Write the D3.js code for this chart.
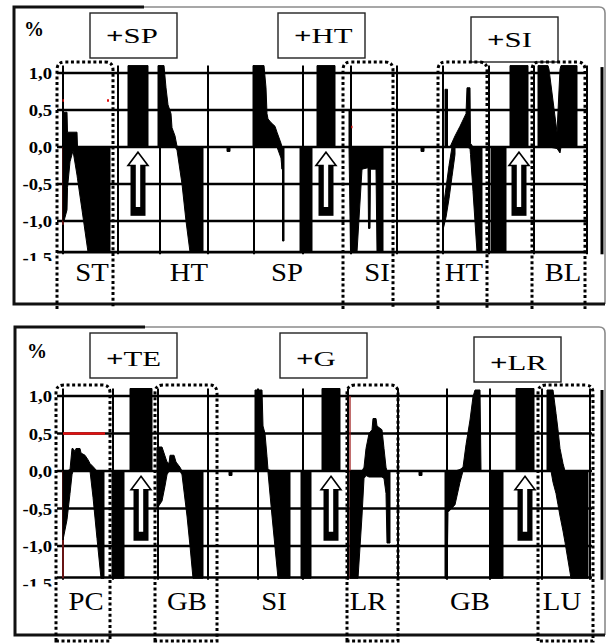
<!DOCTYPE html>
<html><head><meta charset="utf-8">
<script src="https://cdn.jsdelivr.net/npm/d3@7"></script>
<style>body{margin:0;background:#fff}svg{display:block}</style>
</head><body><svg id="c" width="611" height="644"></svg>
<script>
// ---------- data ----------
const tickValues = [1.0, 0.5, 0.0, -0.5, -1.0, -1.5];
const tickLabels = ["1,0", "0,5", "0,0", "-0,5", "-1,0", "-1,5"];
const gridValues = [1.0, 0.5, 0.0, -0.5, -1.0, -1.42];
const topGridTimes = [0, 55, 97, 145, 191, 240, 288, 334, 380, 426, 471, 524];
const bottomGridTimes = [0, 50, 95, 145, 195, 240, 285, 335, 384, 427, 479, 527];
const topSegments = ["ST", "HT", "SP", "SI", "HT", "BL"];
const topSegmentTimes = [29, 126, 224, 314, 401, 500];
const bottomSegments = ["PC", "GB", "SI", "LR", "GB", "LU"];
const bottomSegmentTimes = [23, 124, 211, 305, 407, 499];
const topAdditions = ["SP", "HT", "SI"];
const topAdditionTimes = [75, 263, 456];
const bottomAdditions = ["TE", "G", "LR"];
const bottomAdditionTimes = [78, 268, 462];
const topHighlights = [[-6, 50], [280, 330], [375, 424], [469, 522]];
const bottomHighlights = [[-7, 47], [92, 154], [284, 335], [475, 530]];
// traces: [time, upper %, lower %]
const topTraces = [
  [[0,0,-1.0],[1,0.47,-1.0],[4,0.47,-0.85],[4.5,0.2,-0.55],[7,0.2,-0.2],[10,0.2,-0.05],[14,0.2,-0.38],[14.5,0,-0.43],[19,0,-0.85],[25,0,-1.42],[47,0,-1.42]],
  [[65,1.1,0],[85,1.1,0]],
  [[95,1.1,0],[101,1.1,0],[103,0.8,0],[105,0.57,0],[108,0.45,0],[109,0.26,0],[112,0.15,0],[114,0.01,-0.04],[119,0,-0.5],[123,0,-1.0],[127,0,-1.42],[140,0,-1.42]],
  [[164,0,-0.06],[167,0,-0.06]],
  [[190,1.1,0],[201,1.1,0],[203,0.8,0],[204,0.45,0],[205,0.38,0],[208,0.33,0],[212,0.28,0],[214,0.2,0],[218,0.05,-0.15],[219,0,-0.3]],
  [[219.5,0,-1.27],[221,0,-1.27]],
  [[237,0,-1.42],[249,0,-1.42]],
  [[254,1.1,0],[272,1.1,0]],
  [[286,0.5,0],[287.5,0.5,-1.42],[288,0,-1.42],[294,0,-1.42],[299,0,-0.3],[305,0,-0.28],[305.5,0,-1.1],[307,0,-1.1],[307.5,0,-0.3],[313,0,-0.3],[314,0,-1.42],[320,0,-1.42]],
  [[358,0,-0.06],[361,0,-0.06]],
  [[382,0.78,0],[384.5,0.78,0]],
  [[380,-0.85,-1.12],[383,-0.55,-0.95],[386,-0.25,-0.7],[389,0,-0.4],[392,0,-0.1]],
  [[387,0,0],[392,0.15,0],[397,0.28,0],[403,0.45,0],[404,0.8,0],[407,0.8,-0.02],[407.5,0.05,-0.1],[410,0,-0.6],[414,0,-1.42],[419,0,-1.42]],
  [[428,0,-1.42],[443,0,-1.42]],
  [[447,1.1,0],[465,1.1,0]],
  [[475,1.1,0],[485,1.1,0],[486,1.05,0],[494,0.2,-0.02],[497,1.05,-0.08],[498,1.1,0],[514,1.1,0]]
];
const bottomTraces = [
  [[0,0,-0.92],[4,0,-0.65],[7,0.02,-0.3],[9,0.3,-0.05],[10,0.3,0],[12,0.26,0],[13,0.3,0],[17,0.3,0],[18,0.24,0],[22,0.21,0],[25,0.15,0],[27,0.1,0],[30,0.06,-0.35],[34,0,-0.9],[38,0,-1.43],[41,0,-1.43]],
  [[49,0,-1.43],[61,0,-1.43]],
  [[67,1.1,0],[89,1.1,0]],
  [[94,0.32,-0.5],[99,0.32,-0.4],[102,0.2,-0.2],[104,0.12,-0.05],[106,0.1,0],[107,0.21,0],[111,0.21,0],[113,0.12,0],[117,0.05,0],[119,0,-0.05],[124,0,-0.6],[127,0,-1.0],[130,0,-1.43],[140,0,-1.43]],
  [[166,0,-0.06],[169,0,-0.06]],
  [[192,1.08,0],[199,1.08,0],[200,0.6,0],[202,0.5,0],[204,0.19,0],[205,0.02,-0.02],[209,0,-0.6],[215,0,-1.43],[227,0,-1.43]],
  [[238,0,-1.43],[248,0,-1.43]],
  [[259,1.1,0],[277,1.1,0]],
  [[287,0,-1.43],[295,0,-1.43],[299,0,-0.6],[301,0.05,-0.1],[303,0.3,-0.06],[306,0.5,-0.08],[309,0.55,-0.08],[310,0.7,-0.08],[313,0.7,-0.08],[314,0.6,-0.08],[319,0.55,-0.08],[321,0.3,-0.1],[323,0.05,-0.3],[324,0,-0.96],[327,0,-0.96]],
  [[356,0,-0.06],[359,0,-0.06]],
  [[382,0,-1.43],[384,0,-1.43],[385,0,-0.55],[392,0,-0.45],[397,0.02,-0.15],[400,0.05,0],[403,0.35,0],[407,0.68,0],[410,0.99,0],[412,1.08,0],[417,1.08,0],[418,0,0]],
  [[427,0,-1.43],[440,0,-1.43]],
  [[453,1.1,0],[471,1.1,0]],
  [[484,1.08,0],[488,1.08,0],[490,1.08,-0.15],[493,0.77,-0.3],[495,0.55,-0.45],[497,0.3,-0.6],[500,0.1,-0.8],[502,0,-0.95],[508,0,-1.43],[525,0,-1.43]]
];
// thin red reference marks: [time0, value0, time1, value1]
const topRedMarks = [[0,0,0,-1.05],[-0.5,0.63,1,0.63],[44,0.63,46,0.63],[288,0.27,289.5,0.27]];
const bottomRedMarks = [[0,0.5,42,0.5],[0,0,0,-1.43],[287,1.0,287,-1.43]];

// ---------- drawing ----------
const svg = d3.select("#c");
const SERIF = "'Liberation Serif','Times New Roman',serif";

function drawPanel(cfg) {
  const g = svg.append("g");
  const x = d3.scaleLinear().domain([0, 540]).range([63, 603]);
  const y = d3.scaleLinear().domain([-1.5, 1]).range([cfg.y0 + 1.5 * cfg.k, cfg.y0 - cfg.k]);
  const [fx0, fy0, fx1, fy1] = cfg.frame;

  // frame
  g.append("path").attr("d", `M${fx0+100},${fy0} L${fx1-6},${fy0} Q${fx1},${fy0} ${fx1},${fy0+6} L${fx1},${fy1}`)
    .attr("fill", "none").attr("stroke", "#8a8a8a").attr("stroke-width", 1.6);
  g.append("path").attr("d", `M${fx0+130},${fy0} L${fx0},${fy0} L${fx0},${fy1} L${fx1},${fy1}`)
    .attr("fill", "none").attr("stroke", "#111").attr("stroke-width", 3);

  // "%"
  g.append("text").attr("x", cfg.pct[0]).attr("y", cfg.pct[1]).text("%")
    .attr("font-family", SERIF).attr("font-weight", "bold").attr("font-size", 20);

  // grid
  g.selectAll(".hg").data(gridValues).join("line")
    .attr("x1", 57).attr("x2", x(cfg.gridEnd)).attr("y1", d => y(d)).attr("y2", d => y(d))
    .attr("stroke", "#000").attr("stroke-width", 2.6);
  g.selectAll(".vg").data(cfg.gridTimes).join("line")
    .attr("x1", d => x(d)).attr("x2", d => x(d)).attr("y1", y(1.1)).attr("y2", y(-1.45))
    .attr("stroke", "#000").attr("stroke-width", 2);
  g.append("line").attr("x1", x(539)).attr("x2", x(539)).attr("y1", y(1.08)).attr("y2", y(-1.45))
    .attr("stroke", "#000").attr("stroke-width", 3);

  // tick labels (last one clipped like the original)
  const cid = "clip" + cfg.id;
  svg.append("clipPath").attr("id", cid).append("rect")
    .attr("x", 0).attr("y", y(1.3)).attr("width", 62).attr("height", y(-1.5) - y(1.3) + 3);
  const tl = g.append("g").attr("clip-path", `url(#${cid})`);
  tl.selectAll("text").data(tickValues).join("text")
    .attr("transform", d => `translate(52,${y(d) + 6}) scale(1.1,1)`)
    .attr("text-anchor", "end").attr("font-family", SERIF).attr("font-weight", "bold")
    .attr("font-size", 17).text((d, i) => tickLabels[i]);

  // red marks
  g.selectAll(".rm").data(cfg.red).join("line")
    .attr("x1", d => x(d[0])).attr("y1", d => y(d[1])).attr("x2", d => x(d[2])).attr("y2", d => y(d[3]))
    .attr("stroke", (d) => d[1] === d[3] ? "#e01010" : "#a02020")
    .attr("stroke-width", d => d[1] === d[3] ? 2.5 : 1.3);

  // traces
  const area = d3.area().x(d => x(d[0])).y0(d => y(d[2])).y1(d => y(d[1]));
  g.selectAll(".tr").data(cfg.traces).join("path")
    .attr("d", area).attr("fill", "#000").attr("stroke", "#000").attr("stroke-width", 1);

  // addition arrows
  cfg.addTimes.forEach(t => {
    const cx = x(t);
    g.append("rect").attr("x", cx - 7.5).attr("y", y(-0.2)).attr("width", 15)
      .attr("height", y(-0.93) - y(-0.2)).attr("fill", "#000");
    const a = [[cx, y(-0.07)], [cx + 10, y(-0.25)], [cx + 3, y(-0.25)], [cx + 3, y(-0.82)],
               [cx - 3, y(-0.82)], [cx - 3, y(-0.25)], [cx - 10, y(-0.25)]];
    g.append("path").attr("d", "M" + a.join("L") + "Z")
      .attr("fill", "#fff").attr("stroke", "#000").attr("stroke-width", 1.6);
  });

  // addition label boxes
  cfg.addTimes.forEach((t, i) => {
    const bx = x(t) + cfg.boxOff, by = cfg.annTop[i];
    g.append("rect").attr("x", bx).attr("y", by).attr("width", 87).attr("height", 45)
      .attr("fill", "#fff").attr("stroke", "#222").attr("stroke-width", 1.4);
    const tx = g.append("text").attr("transform", `translate(${bx + 16},${by + cfg.annBase}) scale(1.4,1)`)
      .attr("font-family", SERIF).attr("font-size", 22);
    tx.append("tspan").attr("font-weight", "bold").text("+");
    tx.append("tspan").text(cfg.adds[i]);
  });

  // segment labels
  g.selectAll(".sl").data(cfg.segTimes).join("text")
    .attr("transform", d => `translate(${x(d)},${cfg.labelBase}) scale(1.15,1)`)
    .attr("text-anchor", "middle").attr("font-family", SERIF).attr("font-size", 25)
    .text((d, i) => cfg.segs[i]);

  // dotted highlight boxes
  const r = 8;
  g.selectAll(".hb").data(cfg.highlights).join("path")
    .attr("d", d => {
      const x0 = x(d[0]), x1 = x(d[1]), yt = cfg.boxTop, yb = cfg.boxBottom;
      return `M${x0},${yb} L${x0},${yt + r} Q${x0},${yt} ${x0 + r},${yt} L${x1 - r},${yt} Q${x1},${yt} ${x1},${yt + r} L${x1},${yb}` + (cfg.closed ? "Z" : "");
    })
    .attr("fill", "none").attr("stroke", "#000").attr("stroke-width", 3).attr("stroke-dasharray", "3,2.6");
}

drawPanel({
  id: "t", y0: 147, k: 74, frame: [14, 7, 605, 304], pct: [24, 36], gridEnd: 525,
  gridTimes: topGridTimes, red: topRedMarks, traces: topTraces,
  addTimes: topAdditionTimes, adds: topAdditions, boxOff: -48, annTop: [13, 13, 17], annBase: 30,
  segTimes: topSegmentTimes, segs: topSegments, labelBase: 281,
  highlights: topHighlights, boxTop: 62, boxBottom: 309, closed: false
});
drawPanel({
  id: "b", y0: 471, k: 75, frame: [15, 327, 605, 635], pct: [27, 358], gridEnd: 529,
  gridTimes: bottomGridTimes, red: bottomRedMarks, traces: bottomTraces,
  addTimes: bottomAdditionTimes, adds: bottomAdditions, boxOff: -51, annTop: [333, 333, 337], annBase: 33,
  segTimes: bottomSegmentTimes, segs: bottomSegments, labelBase: 610,
  highlights: bottomHighlights, boxTop: 385, boxBottom: 641, closed: true
});
</script></body></html>
